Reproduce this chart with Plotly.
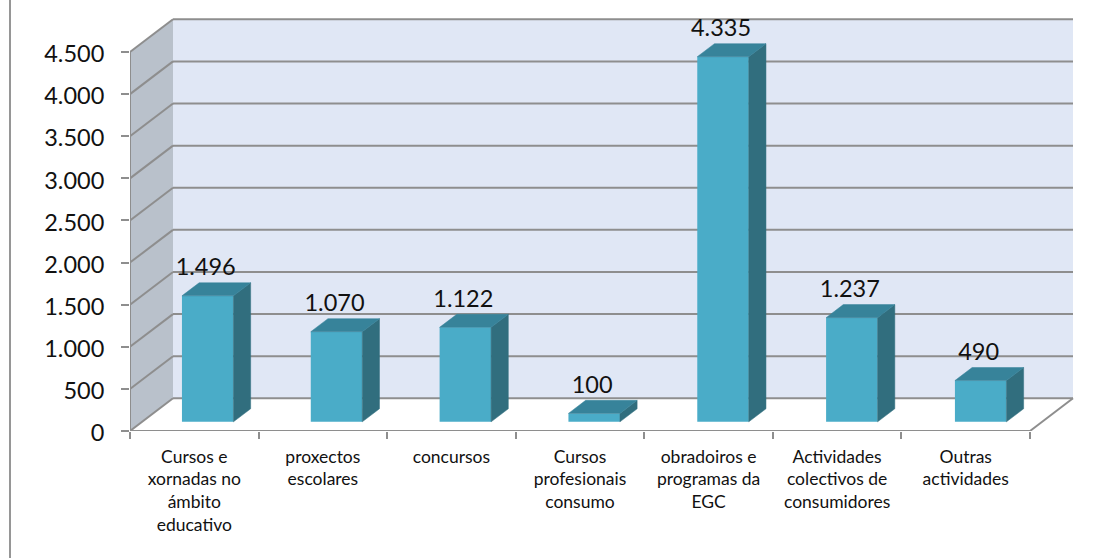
import plotly.graph_objects as go

categories = ["Cursos e<br>xornadas no<br>ámbito<br>educativo", "proxectos<br>escolares", "concursos",
              "Cursos<br>profesionais<br>consumo", "obradoiros e<br>programas da<br>EGC",
              "Actividades<br>colectivos de<br>consumidores", "Outras<br>actividades"]
values = [1496, 1070, 1122, 100, 4335, 1237, 490]
y_ticks = [0, 500, 1000, 1500, 2000, 2500, 3000, 3500, 4000, 4500]

FRONT, TOP, SIDE = "#4AACC8", "#37839A", "#316E7E"
WALL, SIDEWALL, GRID = "#E0E7F5", "#B9C1CB", "#8E8E8E"

# plot area pixels
W, H = 1097, 558
L, R, T, B = 130, 1085, 10, 431
px_x = (1030 - 130) / 7          # pixels per category
px_y = (431 - 52) / 4500         # pixels per value unit
DX = 43 / px_x                   # depth vector, in data units
DY = 32.7 / px_y
bar_w = 51.5 / px_x
d0, d1 = 0.28, 0.68              # bar front / back, as fraction of depth
n = len(values)


def poly(xs, ys, fill):
    path = "M " + " L ".join(f"{a},{b}" for a, b in zip(xs, ys)) + " Z"
    return dict(type="path", path=path, xref="x", yref="y", layer="below", fillcolor=fill, line=dict(width=0))


def seg(x0, y0, x1, y1):
    return dict(type="line", xref="x", yref="y", x0=x0, y0=y0, x1=x1, y1=y1, layer="below",
                line=dict(color=GRID, width=2))


shapes = [poly([0, DX, DX, 0], [0, DY, 4500 + DY, 4500], SIDEWALL),
          poly([DX, n + DX, n + DX, DX], [DY, DY, 4500 + DY, 4500 + DY], WALL)]
for v in y_ticks:
    shapes.append(seg(0, v, DX, v + DY))
    shapes.append(seg(DX, v + DY, n + DX, v + DY))
shapes.append(seg(n, 0, n + DX, DY))
# chart frame, left edge
shapes.append(dict(type="line", xref="paper", yref="paper", x0=(10 - L) / (R - L), x1=(10 - L) / (R - L),
                   y0=(B - H) / (B - T), y1=B / (B - T), line=dict(color="#969696", width=2)))

fig = go.Figure()
# front edges of the box
fig.add_trace(go.Scatter(x=[0, 0, n], y=[4500, 0, 0], mode="lines", cliponaxis=False,
                         line=dict(color=GRID, width=2), hoverinfo="skip"))

depth = d1 - d0
step = 128.83 / px_x
centers = [(207.7 - 130) / px_x + i * step for i in range(n)]
base = d0 * DY
ddx, ddy = depth * DX, depth * DY
fig.add_trace(go.Bar(x=centers, y=values, base=[base] * n, width=bar_w, marker=dict(color=FRONT, line=dict(width=0))))
for xc, v in zip(centers, values):
    xl, xr = xc - bar_w / 2, xc + bar_w / 2
    fig.add_trace(go.Scatter(x=[xr, xr + ddx, xr + ddx, xr, xr], y=[base, base + ddy, base + v + ddy, base + v, base],
                             mode="lines", fill="toself", fillcolor=SIDE, line=dict(color=SIDE, width=0.5), hoverinfo="skip"))
    fig.add_trace(go.Scatter(x=[xl, xl + ddx, xr + ddx, xr, xl], y=[base + v, base + v + ddy, base + v + ddy, base + v, base + v],
                             mode="lines", fill="toself", fillcolor=TOP, line=dict(color=TOP, width=0.5), hoverinfo="skip"))

# value labels
fig.add_trace(go.Scatter(x=[c - 2 / px_x for c in centers], y=[base + v + ddy + 13.5 / px_y for v in values],
                         mode="text", text=[f"{v:,}".replace(",", ".") for v in values], textposition="middle center",
                         textfont=dict(family="Lato", size=23.5, color="#111111"), hoverinfo="skip", cliponaxis=False))

fig.update_layout(
    width=W, height=H, autosize=False, showlegend=False, barmode="overlay", separators=",.",
    paper_bgcolor="white", plot_bgcolor="rgba(0,0,0,0)",
    margin=dict(l=L, r=W - R, t=T, b=H - B, pad=0),
    xaxis=dict(range=[0, (R - L) / px_x], showgrid=False, zeroline=False, showline=False,
               tickmode="array", tickvals=[i + 0.5 for i in range(n)], ticktext=categories,
               ticks="", ticklabelstandoff=13, tickfont=dict(family="Lato", size=17.5, color="#111111"), tickangle=0,
               minor=dict(tickmode="array", tickvals=list(range(n + 1)), ticks="outside", ticklen=7, tickwidth=2,
                          tickcolor=GRID, showgrid=False)),
    yaxis=dict(range=[0, (B - T) / px_y], showgrid=False, zeroline=False, showline=False,
               tickmode="array", tickvals=y_ticks, ticks="outside", ticklen=8, tickwidth=2, tickcolor=GRID,
               tickformat=",d", ticklabelstandoff=12, ticklabelshift=2,
               tickfont=dict(family="Lato", size=23.5, color="#111111")),
    shapes=shapes,
)
fig.write_html("out.html", config={"displayModeBar": False}, post_script="document.body.style.margin='0';")
